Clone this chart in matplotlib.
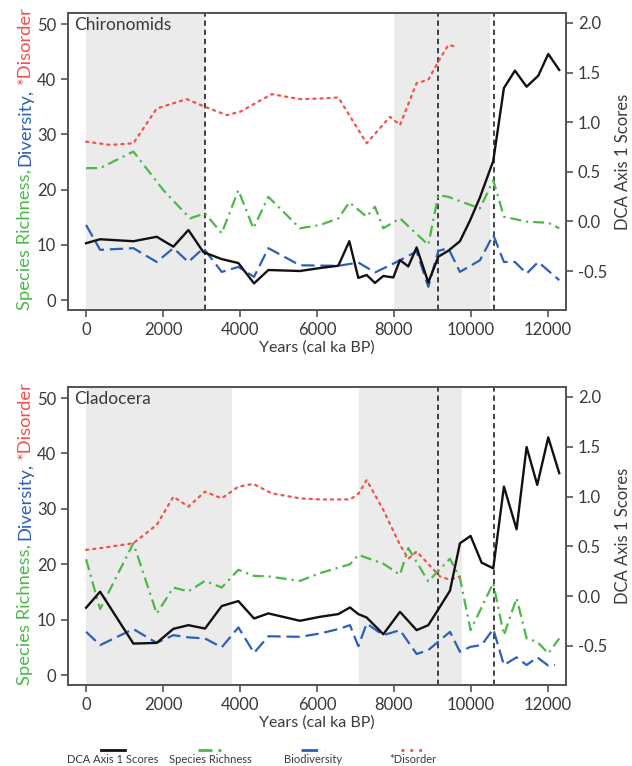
import matplotlib
matplotlib.use("Agg")
import matplotlib.pyplot as plt
from matplotlib.lines import Line2D

plt.rcParams['font.family'] = ['Lato', 'DejaVu Sans']

# ---------------- DATA ----------------
# Chironomids (top panel)
chi_dca_years = [0, 364, 1229, 1835, 2268, 2658, 3048, 3524, 3957, 4364, 4736, 5558, 6078, 6554, 6840,
                 7074, 7290, 7506, 7723, 7983, 8156, 8372, 8589, 8892, 9152, 9411, 9714, 9974, 10234,
                 10580, 10857, 11143, 11446, 11749, 12009, 12294]
chi_dca = [-0.22, -0.18, -0.20, -0.155, -0.255, -0.087, -0.31, -0.38, -0.42, -0.625, -0.49, -0.50, -0.47,
           -0.447, -0.20, -0.57, -0.54, -0.62, -0.55, -0.565, -0.39, -0.454, -0.262, -0.615, -0.356, -0.296,
           -0.20, 0.007, 0.242, 0.61, 1.344, 1.519, 1.357, 1.468, 1.687, 1.526]

chi_rich_years = [0, 364, 1229, 2009, 2701, 3091, 3524, 3957, 4346, 4736, 5558, 6078, 6554, 6840, 7290,
                  7506, 7723, 8156, 8892, 9152, 9411, 10234, 10580, 10857, 11446, 12009, 12294]
chi_rich = [23.9, 23.9, 26.9, 19.9, 14.8, 15.7, 12.1, 19.9, 13.0, 18.7, 13.0, 13.6, 14.8, 17.7, 15.1,
            16.9, 13.0, 14.8, 10.0, 19.0, 18.7, 16.6, 21.7, 15.1, 14.2, 14.0, 13.0]

chi_div_years = [0, 364, 1229, 1835, 2268, 2658, 3048, 3524, 3957, 4364, 4736, 5558, 6554, 7074, 7506,
                 7983, 8589, 8892, 9152, 9411, 9714, 10234, 10580, 10857, 11143, 11446, 11749, 12294]
chi_div = [13.6, 9.1, 9.4, 6.9, 9.4, 6.9, 9.4, 5.1, 6.0, 4.2, 9.4, 6.3, 6.2, 6.8, 5.0,
           6.6, 8.8, 2.4, 8.9, 9.4, 5.1, 7.2, 11.8, 6.9, 6.9, 4.8, 6.9, 3.6]

chi_dis_years = [0, 624, 1229, 1835, 2615, 3091, 3654, 4000, 4822, 5558, 6078, 6554, 7290, 7896, 8156,
                 8589, 8892, 9152, 9411, 9628]
chi_dis = [28.7, 28.1, 28.4, 34.7, 36.4, 35.0, 33.5, 34.1, 37.3, 36.4, 36.5, 36.7, 28.4, 33.2, 31.7,
           39.3, 39.9, 43.2, 46.2, 45.9]

# Cladocera (bottom panel)
cla_dca_years = [0, 364, 1229, 1835, 2268, 2658, 3091, 3524, 3957, 4364, 4736, 5558, 6078, 6554, 6857,
                 7074, 7290, 7723, 8156, 8589, 8892, 9195, 9455, 9714, 9991, 10277, 10580, 10857, 11186,
                 11446, 11723, 12009, 12294]
cla_dca = [-0.117, 0.044, -0.477, -0.47, -0.329, -0.292, -0.326, -0.10, -0.05, -0.225, -0.174, -0.248,
           -0.208, -0.181, -0.114, -0.181, -0.215, -0.383, -0.158, -0.342, -0.292, -0.107, 0.054, 0.53,
           0.604, 0.336, 0.279, 1.10, 0.671, 1.497, 1.117, 1.594, 1.235]

cla_rich_years = [0, 364, 1229, 1835, 2268, 2658, 3091, 3524, 3957, 4364, 4736, 5558, 6078, 6857, 7074,
                  7723, 8156, 8372, 8892, 9455, 9714, 9991, 10580, 10857, 11186, 11446, 11723, 12009, 12294]
cla_rich = [20.9, 11.9, 23.8, 11.1, 15.8, 15.1, 17.0, 15.8, 19.0, 17.9, 17.8, 17.0, 18.4, 20.0, 21.7,
            20.1, 18.1, 22.9, 16.9, 21.0, 17.5, 8.1, 16.6, 7.2, 13.9, 6.6, 6.0, 3.9, 6.6]

cla_div_years = [0, 364, 1229, 1835, 2268, 2658, 3091, 3524, 3957, 4364, 4736, 5558, 6078, 6554, 6857,
                 7074, 7290, 7723, 8156, 8589, 8892, 9455, 9714, 9991, 10277, 10580, 10857, 11186,
                 11446, 11723, 12009, 12182]
cla_div = [7.8, 5.4, 8.3, 5.8, 7.2, 6.8, 6.6, 5.0, 8.6, 4.0, 7.0, 6.9, 7.5, 8.3, 9.0,
           5.2, 9.3, 7.2, 8.1, 3.8, 4.5, 7.8, 4.2, 5.1, 5.4, 8.3, 1.8, 3.2,
           1.8, 3.2, 1.7, 1.8]

cla_dis_years = [0, 364, 1229, 1835, 2268, 2658, 3091, 3524, 3957, 4346, 4822, 5558, 6078, 6857, 7074,
                 7290, 7723, 8156, 8372, 8589, 9195, 9455, 9714]
cla_dis = [22.6, 22.9, 23.8, 27.1, 32.2, 30.4, 33.1, 31.9, 34.0, 34.5, 32.8, 31.9, 31.7, 31.7, 32.7,
           35.2, 29.8, 23.5, 21.0, 22.3, 17.8, 17.2, 17.8]

panel_names = ["Chironomids", "Cladocera"]
shade_spans = [[(0, 3100), (8000, 10500)], [(0, 3800), (7100, 9780)]]
event_lines = [[3100, 9150, 10600], [9150, 10600]]
x_ticks = [0, 2000, 4000, 6000, 8000, 10000, 12000]
left_ticks = [0, 10, 20, 30, 40, 50]
right_ticks = [-0.5, 0.0, 0.5, 1.0, 1.5, 2.0]

legend_labels = ["DCA Axis 1 Scores", "Species Richness", "Biodiversity", "*Disorder"]

# ---------------- STYLE ----------------
C_BLACK = '#111111'
C_GREEN = '#4cb848'
C_BLUE = '#2e5fb8'
C_RED = '#f2514b'
C_TEXT = '#3a3a3a'
C_SPINE = '#555555'
C_SHADE = '#ebebeb'

styles = {
    'dca': dict(color=C_BLACK, lw=1.7, ls='-'),
    'rich': dict(color=C_GREEN, lw=1.6, ls=(0, (5, 2.2, 1, 2.2))),
    'div': dict(color=C_BLUE, lw=1.6, ls=(0, (6, 2.6))),
    'dis': dict(color=C_RED, lw=1.6, ls=(0, (1, 2.2))),
}

W, H = 632, 766
fig = plt.figure(figsize=(W / 100, H / 100), dpi=100)

def fx(px):
    return px / W

def fy(py):
    return 1 - py / H

panels = [
    dict(top=13, bottom=310, dca=(chi_dca_years, chi_dca), rich=(chi_rich_years, chi_rich),
         div=(chi_div_years, chi_div), dis=(chi_dis_years, chi_dis)),
    dict(top=387, bottom=685, dca=(cla_dca_years, cla_dca), rich=(cla_rich_years, cla_rich),
         div=(cla_div_years, cla_div), dis=(cla_dis_years, cla_dis)),
]

left_px, right_px = 68, 566
label_parts = [("Species Richness,", C_GREEN), ("Diversity,", C_BLUE), ("*Disorder", C_RED)]

axes_list = []
for i, p in enumerate(panels):
    ax = fig.add_axes([fx(left_px), fy(p['bottom']), fx(right_px - left_px), (p['bottom'] - p['top']) / H])
    ax2 = ax.twinx()
    for (a, b) in shade_spans[i]:
        ax.axvspan(a, b, color=C_SHADE, lw=0, zorder=0)
    for xv in event_lines[i]:
        ax.axvline(xv, color=C_BLACK, lw=1.1, ls=(0, (3.5, 2.5)), zorder=1)
    ax.plot(*p['dis'], **styles['dis'], zorder=3, dash_capstyle='round')
    ax.plot(*p['rich'], **styles['rich'], zorder=3)
    ax.plot(*p['div'], **styles['div'], zorder=3)
    ax2.plot(*p['dca'], **styles['dca'], zorder=4)

    ax.set_xlim(-470, 12470)
    ax.set_ylim(-1.8, 52)
    ax2.set_ylim(-0.893, 2.10)
    ax.set_xticks(x_ticks)
    ax.set_yticks(left_ticks)
    ax2.set_yticks(right_ticks)
    ax2.set_yticklabels([f"{v:.1f}" for v in right_ticks])
    for a in (ax, ax2):
        for s in a.spines.values():
            s.set_color(C_SPINE)
            s.set_linewidth(1.3)
        a.tick_params(colors=C_SPINE, labelcolor=C_TEXT, labelsize=12, width=1.2, length=5)
    ax.set_xlabel("Years (cal ka BP)", fontsize=11.5, color=C_TEXT, labelpad=2)
    ax2.set_ylabel("DCA Axis 1 Scores", fontsize=12, color=C_TEXT, labelpad=6)
    ax.text(0.012, 0.985, panel_names[i], transform=ax.transAxes, ha='left', va='top',
            fontsize=12.5, color=C_TEXT)
    ax2.set_zorder(ax.get_zorder() + 1)
    ax.patch.set_visible(False)
    ax2.patch.set_visible(False)
    axes_list.append((ax, ax2, p))

# multicolour rotated left labels
fig.canvas.draw()
renderer = fig.canvas.get_renderer()
for ax, ax2, p in axes_list:
    texts = []
    for s, c in label_parts:
        t = fig.text(0, 0, s, rotation=90, color=c, fontsize=13.2, ha='center', va='bottom')
        texts.append(t)
    heights = [t.get_window_extent(renderer).height for t in texts]
    gap = 4
    total = sum(heights) + gap * (len(texts) - 1)
    center_px = (p['top'] + p['bottom']) / 2 - 3
    start = center_px + total / 2  # bottom in image px (y down)
    cur = start
    for t, h in zip(texts, heights):
        t.set_position((fx(25), fy(cur)))
        cur -= h + gap

# legend (handle above label)
leg_ax = fig.add_axes([0, 0, 1, 0.035])
leg_ax.set_xlim(0, W)
leg_ax.set_ylim(0, 1)
leg_ax.axis('off')
leg_centers = [113, 210, 313, 413]
for lbl, key, cx in zip(legend_labels, ['dca', 'rich', 'div', 'dis'], leg_centers):
    st = styles[key]
    leg_ax.add_line(Line2D([cx - 12, cx + 12], [0.6, 0.6], color=st['color'], lw=2.0,
                           ls=st['ls'] if key != 'dca' else '-'))
    leg_ax.text(cx, 0.02, lbl, ha='center', va='bottom', fontsize=8, color=C_TEXT)

fig.savefig("out.png", dpi=100)
